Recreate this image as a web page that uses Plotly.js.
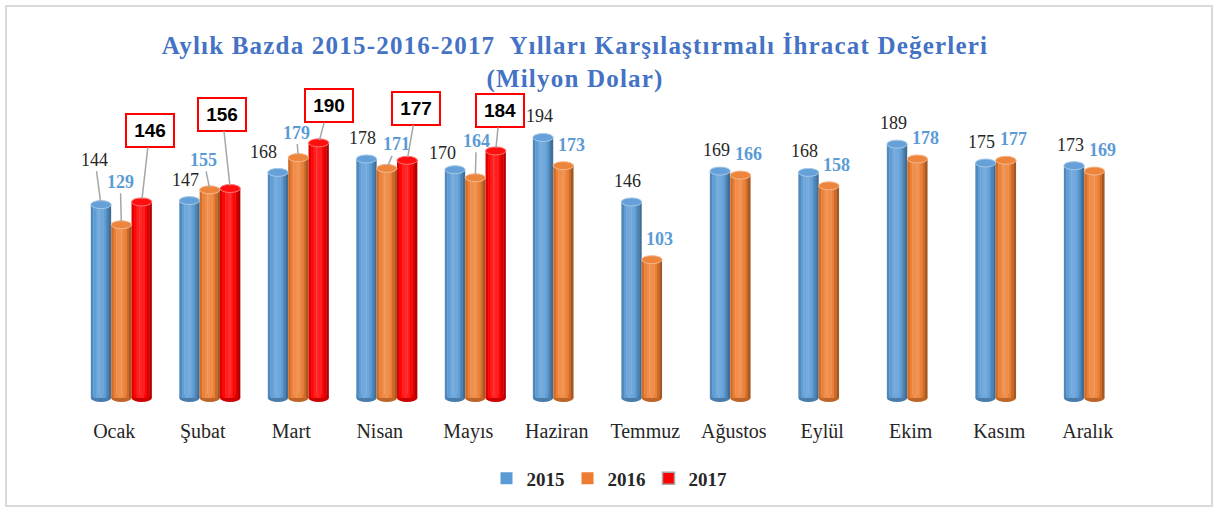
<!DOCTYPE html>
<html>
<head>
<meta charset="utf-8">
<script src="https://cdn.plot.ly/plotly-3.0.1.min.js"></script>
<style>
  html, body { margin: 0; padding: 0; background: #ffffff; }
  #wrap { position: relative; width: 1215px; height: 509px; }
  #chart { position: absolute; left: 0; top: 0; width: 1215px; height: 509px; }
  #frame { position: absolute; left: 5px; top: 5px; width: 1208px; height: 502px;
           border: 2px solid #d9d9d9; box-sizing: border-box; pointer-events: none; }
  .gtitle { letter-spacing: 1.2px; }
</style>
</head>
<body>
<div id="wrap"><div id="chart"></div><div id="frame"></div></div>
<script>
// ---- data ----
const months = ['Ocak','Şubat','Mart','Nisan','Mayıs','Haziran','Temmuz','Ağustos','Eylül','Ekim','Kasım','Aralık'];
const years = ['2015','2016','2017'];
const v2015 = [144,147,168,178,170,194,146,169,168,189,175,173];
const v2016 = [129,155,179,171,164,173,103,166,158,178,177,169];
const v2017 = [146,156,190,177,184,null,null,null,null,null,null,null];
const chartTitle = 'Aylık Bazda 2015-2016-2017\u00a0 Yılları Karşılaştırmalı İhracat Değerleri<br>(Milyon Dolar)';

// ---- styling ----
const series = [v2015, v2016, v2017];
const baseColors = ['#5B9BD5', '#ED7D31', '#FF0000'];
const W = 0.23;            // bar width in category units
const N = 8;               // strips per bar for cylinder shading
const shadeF = [-0.12, 0.02, 0.12, 0.16, 0.12, 0.02, -0.14, -0.30];
const serif = 'Liberation Serif, DejaVu Serif, serif';
const sans = 'Liberation Sans, Arial, sans-serif';

function hex2rgb(h){ h=h.replace('#',''); return [0,2,4].map(i=>parseInt(h.substr(i,2),16)); }
function mix(h, f){
  const c = hex2rgb(h);
  const t = f >= 0 ? 255 : 0, a = Math.abs(f);
  const r = c.map(v => Math.round(v + (t - v) * a));
  return 'rgb(' + r.join(',') + ')';
}

// bar left edge (category units, relative to month index) for series s at month i
function leftEdge(s, i){
  const present = series.map(a => a[i] != null);
  const count = present.filter(Boolean).length;
  const shift = count === 3 ? 0.08 : -0.04;
  let pos = 0;
  for (let k = 0; k < s; k++) if (present[k]) pos++;
  return shift - count * W / 2 + pos * W;
}

const traces = [];
const shapes = [];
series.forEach((vals, s) => {
  for (let k = 0; k < N; k++) {
    traces.push({
      type: 'bar', x: months, y: vals,
      offset: months.map((m, i) => leftEdge(s, i) + k * W / N),
      width: months.map(() => W / N + (k < N - 1 ? 0.004 : 0)),
      marker: { color: mix(baseColors[s], shadeF[k]), line: { width: 0 } },
      showlegend: false, hoverinfo: 'skip'
    });
  }
  vals.forEach((v, i) => {
    if (v == null) return;
    const x0 = i + leftEdge(s, i), x1 = x0 + W;
    shapes.push({ type: 'circle', xref: 'x', yref: 'y', ysizemode: 'pixel', yanchor: v,
      x0: x0, x1: x1, y0: -4, y1: 4, layer: 'above',
      fillcolor: mix(baseColors[s], 0.06), line: { color: mix(baseColors[s], 0.45), width: 1 } });
    shapes.push({ type: 'circle', xref: 'x', yref: 'y', ysizemode: 'pixel', yanchor: 0,
      x0: x0, x1: x1, y0: -4, y1: 4, layer: 'below',
      fillcolor: mix(baseColors[s], -0.2), line: { width: 0 } });
  });
});
// legend entries
series.forEach((vals, s) => {
  traces.push({ type: 'bar', x: [months[0]], y: [null], name: years[s], offset: 0, width: 0.01,
    marker: { color: baseColors[s], line: { color: s === 2 ? '#a6a6a6' : baseColors[s], width: s === 2 ? 1.5 : 0 } },
    showlegend: true, hoverinfo: 'skip' });
});

// data labels
const defaultOff = [
  (i, three) => [-4, -21],
  (i, three) => three ? [0, -32] : [8, -21],
  (i, three) => [6, -55]
];
const nudges = {
  '0-0': [-6, -45], '0-2': [-14, -20], '0-4': [-12, -17],
  '1-0': [-1, -43], '1-1': [-6, -30], '1-2': [-2, -25], '1-3': [10, -24], '1-4': [1, -37],
  '2-0': [8, -71], '2-1': [-8, -74], '2-2': [10, -37], '2-3': [9, -52], '2-4': [4, -40]
};
const labelFonts = [
  { family: serif, size: 18, color: '#262626' },
  { family: serif, size: 18, color: '#5B9BD5', weight: 'bold' },
  { family: sans, size: 19, color: '#000000', weight: 'bold' }
];
const annotations = [];
series.forEach((vals, s) => {
  vals.forEach((v, i) => {
    if (v == null) return;
    const three = v2017[i] != null;
    const off = nudges[s + '-' + i] || defaultOff[s](i, three);
    const x = i + leftEdge(s, i) + W / 2;
    const a = { x: x, y: v, xref: 'x', yref: 'y', text: String(v), font: labelFonts[s] };
    if (s === 2) {
      Object.assign(a, { bgcolor: '#ffffff', bordercolor: '#ff0000', borderwidth: 2, borderpad: 1,
        width: 44, height: 29 });
    }
    if (off[1] <= -24) {
      Object.assign(a, { showarrow: true, ax: off[0], ay: off[1], arrowhead: 0, arrowwidth: 1.5,
        arrowcolor: '#a6a6a6', standoff: 3 });
    } else {
      Object.assign(a, { showarrow: false, xshift: off[0], yshift: -off[1], xanchor: 'center', yanchor: 'middle' });
    }
    annotations.push(a);
  });
});

const layout = {
  width: 1215, height: 509,
  margin: { l: 70, r: 83, t: 107, b: 105 },
  paper_bgcolor: '#ffffff', plot_bgcolor: '#ffffff',
  barmode: 'overlay',
  title: { text: chartTitle, x: 575 / 1215, xref: 'container', xanchor: 'center',
    y: 1 - 54 / 509, yref: 'container', yanchor: 'middle',
    font: { family: serif, size: 25, color: '#4472C4', weight: 'bold' } },
  xaxis: { type: 'category', showgrid: false, zeroline: false, showline: false, ticks: '',
    tickfont: { family: serif, size: 20, color: '#262626' }, ticklabelstandoff: 15, fixedrange: true },
  yaxis: { range: [-3, 216.7], visible: false, showgrid: false, zeroline: false, fixedrange: true },
  legend: { orientation: 'h', x: (608 - 70) / 1062, xanchor: 'center', y: (404 - 481) / 297, yanchor: 'middle',
    font: { family: serif, size: 19, color: '#262626', weight: 'bold' }, traceorder: 'normal',
    entrywidth: 36 },
  shapes: shapes,
  annotations: annotations,
  showlegend: true
};

Plotly.newPlot('chart', traces, layout, { displayModeBar: false, staticPlot: true });
</script>
</body>
</html>
